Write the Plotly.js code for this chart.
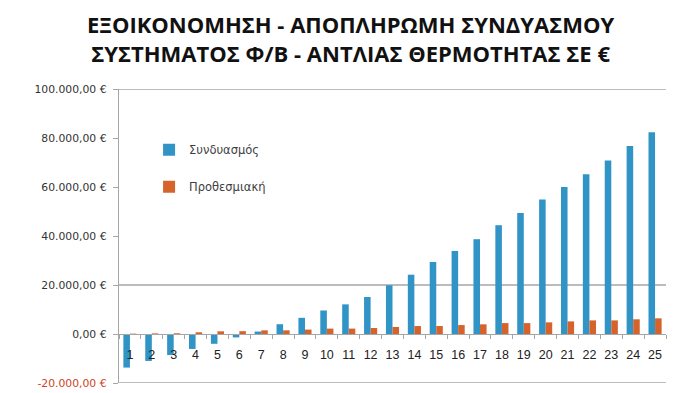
<!DOCTYPE html>
<html>
<head>
<meta charset="utf-8">
<script src="https://cdn.plot.ly/plotly-3.0.1.min.js"></script>
<style>html,body{margin:0;padding:0;background:#fff;}#chart{width:700px;height:393px;}</style>
</head>
<body>
<div id="chart"></div>
<script>
const years = ["1","2","3","4","5","6","7","8","9","10","11","12","13","14","15","16","17","18","19","20","21","22","23","24","25"];
const combo = [-13700,-11000,-8600,-6100,-4000,-1400,1000,4000,6600,9600,12100,15100,19900,24200,29400,33900,38700,44400,49400,54900,60000,65200,70800,76700,82300];
const deposit = [150,250,300,700,1100,1150,1500,1500,1800,2200,2200,2450,2850,3250,3250,3650,3950,4450,4450,4750,5150,5550,5550,6000,6400];
const seriesNames = ["Συνδυασμός","Προθεσμιακή"];
const yTickVals = [-20000,0,20000,40000,60000,80000,100000];
const yTickText = ['<span style="color:#D0431E">-20.000,00 €</span>','0,00 €','20.000,00 €','40.000,00 €','60.000,00 €','80.000,00 €','100.000,00 €'];
const gridVals = [100000,20000,-20000];
const titleText = "ΕΞΟΙΚΟΝΟΜΗΣΗ - ΑΠΟΠΛΗΡΩΜΗ ΣΥΝΔΥΑΣΜΟΥ<br>ΣΥΣΤΗΜΑΤΟΣ Φ/Β - ΑΝΤΛΙΑΣ ΘΕΡΜΟΤΗΤΑΣ ΣΕ €";

const yMin = -20000, yMax = 100000;
const W = 700, H = 393, M = {l:119, r:34, t:89, b:10};

const traces = [
  {type:'bar', x:years, y:combo, name:seriesNames[0], legendgroup:'a',
   marker:{color:'#3194C6', line:{width:0}}},
  {type:'bar', x:years, y:deposit, name:seriesNames[1], legendgroup:'b',
   marker:{color:'#D6632C', line:{width:0}}}
];

const shapes = gridVals.map(v => ({type:'line', xref:'paper', x0:0, x1:1, yref:'y', y0:v, y1:v,
  line:{color:'#A6A6A6', width:1.3}, layer:'below'}));

const plotW = W - M.l - M.r, plotH = H - M.t - M.b;

const layout = {
  width:W, height:H,
  margin:M,
  paper_bgcolor:'#fff', plot_bgcolor:'#fff',
  annotations:[{text:titleText, showarrow:false, xref:'paper', yref:'paper',
    x:(W/2 - M.l)/plotW, xanchor:'center', y:1 + (M.t - 7)/plotH, yanchor:'top',
    font:{family:'Open Sans', size:22, color:'#111', weight:700}}],
  barmode:'group', bargap:0.4, bargroupgap:0,
  showlegend:true,
  legend:{x:0.055, y:0.843, xanchor:'left', yanchor:'top', bgcolor:'rgba(0,0,0,0)',
    font:{family:'DejaVu Sans', size:11.5, color:'#404040'}, tracegroupgap:18, itemwidth:30},
  xaxis:{type:'category', anchor:'free', position:(0 - yMin)/(yMax - yMin),
    showline:true, linecolor:'#A6A6A6', linewidth:1.3, tickangle:0,
    ticks:'outside', ticklen:4, tickcolor:'#A6A6A6', tickson:'boundaries',
    ticklabelstandoff:9, showgrid:false, zeroline:false,
    tickfont:{family:'Liberation Sans', size:12.5, color:'#222'}},
  yaxis:{range:[yMin, yMax], tickvals:yTickVals, ticktext:yTickText,
    showline:true, linecolor:'#A6A6A6', linewidth:1.3,
    ticks:'outside', ticklen:5, tickcolor:'#A6A6A6', showgrid:false, zeroline:false,
    tickfont:{family:'DejaVu Sans', size:10.8, color:'#333'}, ticklabelstandoff:4},
  shapes:shapes
};

Plotly.newPlot('chart', traces, layout, {displayModeBar:false, staticPlot:true});
</script>
</body>
</html>
